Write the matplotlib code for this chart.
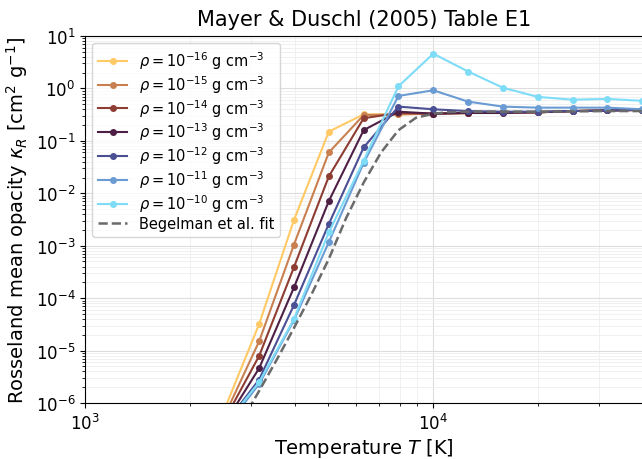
import numpy as np
import matplotlib
matplotlib.use("Agg")
import matplotlib.pyplot as plt

# temperature grid of the table [K]
T = [2512, 3162, 3981, 5012, 6310, 7943, 10000, 12589, 15849, 19953, 25119, 31623, 39811]

# Rosseland mean opacity [cm^2/g], one list per density
kap_m16 = [7.4e-7, 3.2e-5, 3.1e-3, 0.15, 0.32, 0.32, 0.33, 0.34, 0.35, 0.35, 0.37, 0.38, 0.39]
kap_m15 = [5.6e-7, 1.5e-5, 1.05e-3, 0.06, 0.31, 0.32, 0.33, 0.34, 0.35, 0.35, 0.37, 0.38, 0.39]
kap_m14 = [4.7e-7, 7.9e-6, 3.9e-4, 0.021, 0.27, 0.34, 0.33, 0.34, 0.35, 0.35, 0.37, 0.38, 0.39]
kap_m13 = [4.0e-7, 4.6e-6, 1.6e-4, 7.1e-3, 0.16, 0.36, 0.33, 0.34, 0.34, 0.35, 0.37, 0.38, 0.39]
kap_m12 = [3.8e-7, 2.8e-6, 7.4e-5, 2.6e-3, 0.075, 0.45, 0.40, 0.37, 0.36, 0.36, 0.37, 0.38, 0.39]
kap_m11 = [3.2e-7, 2.3e-6, 3.8e-5, 1.17e-3, 0.038, 0.72, 0.92, 0.56, 0.45, 0.43, 0.43, 0.43, 0.40]
kap_m10 = [3.7e-7, 2.5e-6, 4.0e-5, 1.8e-3, 0.042, 1.1, 4.6, 2.1, 1.03, 0.69, 0.61, 0.63, 0.58]

series = [kap_m16, kap_m15, kap_m14, kap_m13, kap_m12, kap_m11, kap_m10]
rho_exp = [-16, -15, -14, -13, -12, -11, -10]
colors = ["#ffc965", "#c98050", "#8e3d33", "#4e1f45", "#4b4f93", "#6a9bd3", "#7edcf7"]

# Begelman et al. fit
T_fit = [2818, 3162, 3548, 3981, 4467, 5012, 5623, 6310, 7079, 7943, 8913, 10000,
         11220, 12589, 15849, 19953, 25119, 31623, 39811]
kap_fit = [4.5e-7, 1.7e-6, 6.6e-6, 2.7e-5, 1.17e-4, 5.6e-4, 3.4e-3, 1.6e-2, 6.0e-2,
           0.16, 0.275, 0.33, 0.355, 0.36, 0.36, 0.36, 0.365, 0.37, 0.37]

fig = plt.figure(figsize=(6.42, 4.60), dpi=100)
ax = fig.add_axes([85 / 642, 56 / 460, 558 / 642, 367 / 460])

for kap, e, c in zip(series, rho_exp, colors):
    ax.plot(T, kap, "-o", color=c, lw=1.5, ms=4,
            label=r"$\rho = 10^{%d}$ g cm$^{-3}$" % e)
ax.plot(T_fit, kap_fit, "--", color="#6a6a6a", lw=1.8, label="Begelman et al. fit")

ax.set_xscale("log")
ax.set_yscale("log")
ax.set_xlim(1e3, 4e4)
ax.set_ylim(1e-6, 1e1)
ax.grid(True, which="major", color="#dddddd", lw=0.8)
ax.grid(True, which="minor", color="#eeeeee", lw=0.6)
ax.tick_params(labelsize=12)
ax.set_xlabel(r"Temperature $T$ [K]", fontsize=14, labelpad=2)
ax.set_ylabel(r"Rosseland mean opacity $\kappa_R$ [cm$^2$ g$^{-1}$]", fontsize=14)
ax.set_title("Mayer & Duschl (2005) Table E1", fontsize=15, pad=8)
ax.legend(loc="upper left", fontsize=10.5, labelspacing=0.15, borderaxespad=0.5)

fig.savefig("out.png", dpi=100)
